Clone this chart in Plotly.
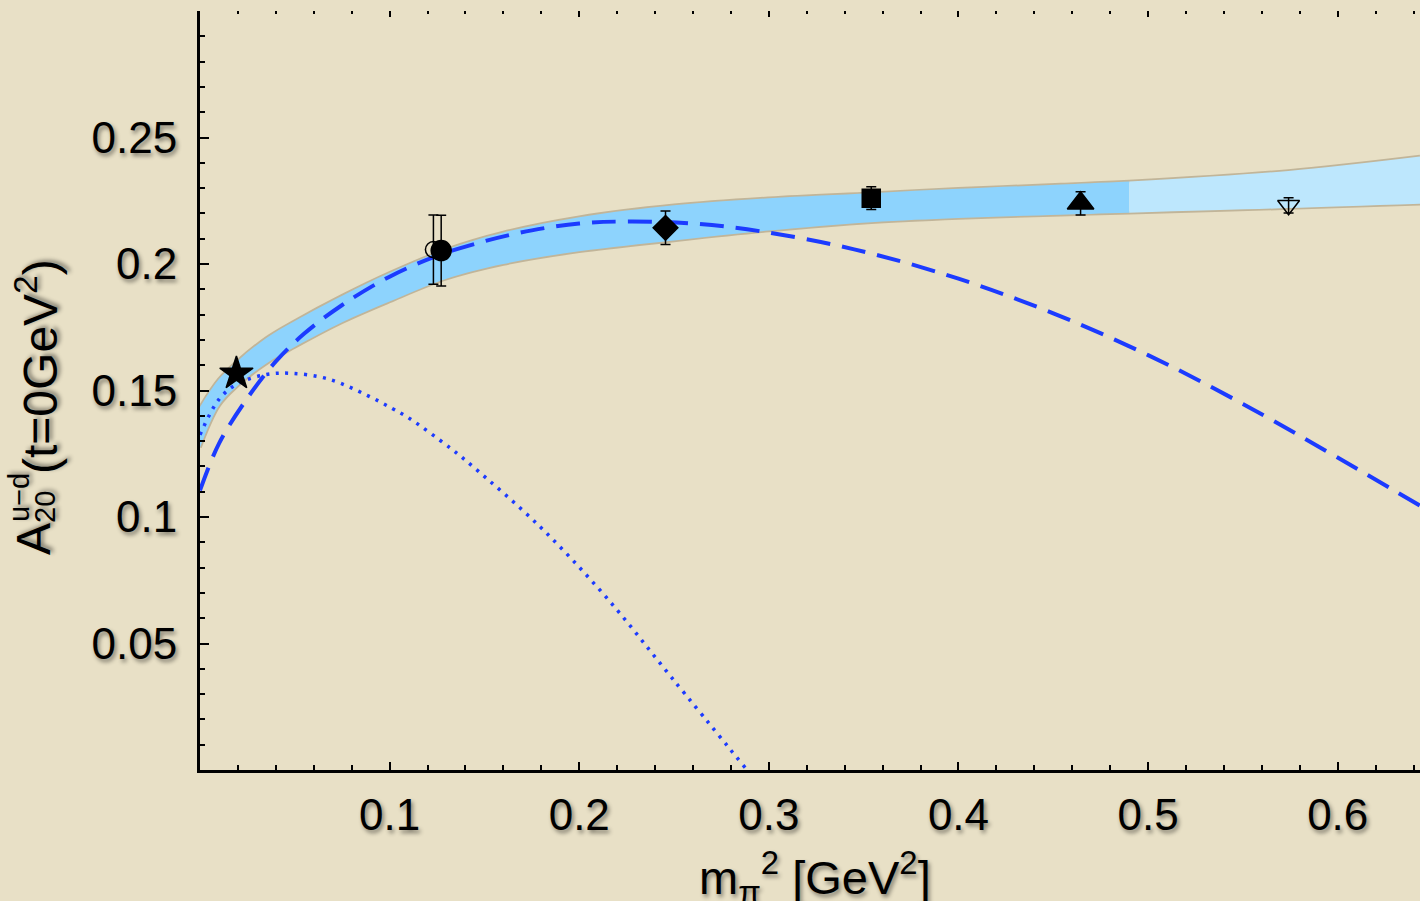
import plotly.graph_objects as go

# ---------------- data ----------------
band_x = [0.0, 0.01, 0.02, 0.035, 0.05, 0.075, 0.10, 0.13, 0.16, 0.20,
          0.25, 0.30, 0.354, 0.40, 0.454, 0.49, 0.574, 0.6434]
band_upper = [0.1435, 0.1545, 0.1618, 0.1708, 0.1775, 0.1875, 0.1965, 0.2058, 0.2125, 0.2185,
              0.2232, 0.2260, 0.2280, 0.2297, 0.2314, 0.2326, 0.2368, 0.2425]
band_lower = [0.1275, 0.1440, 0.1520, 0.1607, 0.1672, 0.1770, 0.1852, 0.1942, 0.2000, 0.2050,
              0.2093, 0.2132, 0.2165, 0.2182, 0.2195, 0.2203, 0.2221, 0.2238]
band_split = 0.49

dash_x = [0.0, 0.01, 0.025, 0.04, 0.055, 0.075, 0.10, 0.125, 0.15, 0.175,
          0.20, 0.225, 0.26, 0.295, 0.345, 0.40, 0.45, 0.50, 0.55, 0.6434]
dash_y = [0.1105, 0.1290, 0.1470, 0.1615, 0.1725, 0.1838, 0.1950, 0.2032, 0.2090, 0.2133,
          0.2160, 0.2168, 0.2160, 0.2130, 0.2058, 0.1942, 0.1805, 0.1640, 0.1447, 0.1045]

dot_x = [0.0, 0.0102, 0.0199, 0.0349, 0.048, 0.0674, 0.0884, 0.1016, 0.1096, 0.1324,
         0.1438, 0.179, 0.2142, 0.2493, 0.2885]
dot_y = [0.1325, 0.1467, 0.1527, 0.1563, 0.1568, 0.1546, 0.1480, 0.1428, 0.1394, 0.1270,
         0.1200, 0.0964, 0.0683, 0.0360, 0.0]

pt_names = ["star", "open circle", "circle", "diamond", "square", "triangle", "open triangle"]
pt_x = [0.0192, 0.1231, 0.1272, 0.2455, 0.354, 0.4644, 0.5741]
pt_y = [0.1567, 0.2057, 0.2053, 0.2143, 0.2260, 0.2240, 0.2232]
pt_err = [0.0015, 0.0137, 0.0140, 0.0066, 0.0045, 0.0046, 0.0030]
pt_symbol = ["star", "circle-open", "circle", "diamond", "square", "triangle-up", "triangle-down-open"]
pt_size = [25, 16, 20, 19, 18, 23, 19]

x_ticks = [0.1, 0.2, 0.3, 0.4, 0.5, 0.6]
x_ticktext = ["0.1", "0.2", "0.3", "0.4", "0.5", "0.6"]
y_ticks = [0.05, 0.1, 0.15, 0.2, 0.25]
y_ticktext = ["0.05", "0.1", "0.15", "0.2", "0.25"]

# ---------------- styling ----------------
BG = "#E8E0C6"
BAND_DARK = "#8DD3FD"
BAND_LIGHT = "#BDE7FD"
BLUE = "#1C3BFF"
FONT = "Liberation Sans, Arial, Helvetica, sans-serif"
SHADOW = "2px 3px 4px rgba(0,0,0,0.45)"

fig = go.Figure()

SPL = dict(shape="spline", smoothing=1.0)

# band shadow edges
for edge in (band_upper, band_lower):
    fig.add_trace(go.Scatter(x=band_x, y=edge, mode="lines",
                             line=dict(color="rgba(120,100,70,0.35)", width=3.5, **SPL),
                             hoverinfo="skip", showlegend=False))

def band_part(lo, hi, color):
    xs = [x for x in band_x if lo <= x <= hi]
    up = [u for x, u in zip(band_x, band_upper) if lo <= x <= hi]
    dn = [d for x, d in zip(band_x, band_lower) if lo <= x <= hi]
    fig.add_trace(go.Scatter(x=xs, y=dn, mode="lines", line=dict(width=0, color=color, **SPL),
                             hoverinfo="skip", showlegend=False))
    fig.add_trace(go.Scatter(x=xs, y=up, mode="lines", fill="tonexty", fillcolor=color,
                             line=dict(width=0, color=color, **SPL),
                             hoverinfo="skip", showlegend=False))

band_part(0.0, band_split, BAND_DARK)
band_part(band_split, 1.0, BAND_LIGHT)

# curves
fig.add_trace(go.Scatter(x=dash_x, y=dash_y, mode="lines",
                         line=dict(color=BLUE, width=4, dash="24px,12px", **SPL),
                         hoverinfo="skip", showlegend=False))
fig.add_trace(go.Scatter(x=dot_x, y=dot_y, mode="lines",
                         line=dict(color=BLUE, width=3.5, dash="3px,6.5px", **SPL),
                         hoverinfo="skip", showlegend=False))

# data points
for i in range(len(pt_x)):
    fig.add_trace(go.Scatter(
        x=[pt_x[i]], y=[pt_y[i]], mode="markers", name=pt_names[i],
        marker=dict(symbol=pt_symbol[i], size=pt_size[i], color="black",
                    line=dict(color="black", width=1.5)),
        error_y=dict(type="data", array=[pt_err[i]], color="black", thickness=1.5, width=5),
        showlegend=False))

# invisible trace for top tick axis
fig.add_trace(go.Scatter(x=[0.3], y=[0.1], xaxis="x2", yaxis="y", mode="markers",
                         marker=dict(opacity=0), hoverinfo="skip", showlegend=False))

tickfont = dict(family=FONT, size=44, color="black", shadow=SHADOW)

fig.update_layout(
    width=1420, height=901,
    margin=dict(l=200, r=0, t=11, b=131),
    paper_bgcolor=BG, plot_bgcolor=BG,
    xaxis=dict(range=[0, 0.6434], showgrid=False, zeroline=False,
               showline=True, linecolor="black", linewidth=3,
               tickmode="array", tickvals=x_ticks, ticktext=x_ticktext,
               ticks="inside", ticklen=8, tickwidth=2, tickcolor="black",
               minor=dict(ticks="inside", ticklen=5, tickwidth=1.5, tickcolor="black",
                          tickmode="linear", tick0=0, dtick=0.02),
               tickfont=tickfont, ticklabelstandoff=4),
    xaxis2=dict(range=[0, 0.6434], overlaying="x", side="top", matches="x",
                showgrid=False, zeroline=False, showline=False, showticklabels=False,
                tickmode="linear", tick0=0, dtick=0.1,
                ticks="inside", ticklen=6, tickwidth=2, tickcolor="black",
                minor=dict(ticks="inside", ticklen=3, tickwidth=1.5, tickcolor="black",
                           tickmode="linear", tick0=0, dtick=0.02)),
    yaxis=dict(range=[0, 0.3], showgrid=False, zeroline=False,
               showline=True, linecolor="black", linewidth=3,
               tickmode="array", tickvals=y_ticks, ticktext=y_ticktext,
               ticks="inside", ticklen=9, tickwidth=2, tickcolor="black",
               minor=dict(ticks="inside", ticklen=5, tickwidth=1.5, tickcolor="black",
                          tickmode="linear", tick0=0, dtick=0.01),
               tickfont=tickfont, ticklabelstandoff=11),
)

def px2paper(px, py):
    return (px - 200) / 1220, (770 - py) / 759

ann_font = lambda s: dict(family=FONT, size=s, color="black", shadow=SHADOW)

# y-axis title pieces (rotated)
for text, (px, py), size in [
    ("A", (33, 539), 48),
    ("u\u2212d", (19, 498), 29),
    ("20", (45, 507), 29),
    ("(t=0GeV<sup>2</sup>)", (37, 367), 48),
]:
    ax_, ay_ = px2paper(px, py)
    fig.add_annotation(text=text, x=ax_, y=ay_, xref="paper", yref="paper",
                       xanchor="center", yanchor="middle", textangle=-90,
                       showarrow=False, font=ann_font(size))

# x-axis title
ax_, ay_ = px2paper(815, 877)
fig.add_annotation(text="m<sub>\u03c0</sub><sup>2</sup> [GeV<sup>2</sup>]", x=ax_, y=ay_,
                   xref="paper", yref="paper", xanchor="center", yanchor="middle",
                   showarrow=False, font=ann_font(47))

fig.write_html("out.html", post_script="document.body.style.margin='0px';",
               config={"displayModeBar": False})
